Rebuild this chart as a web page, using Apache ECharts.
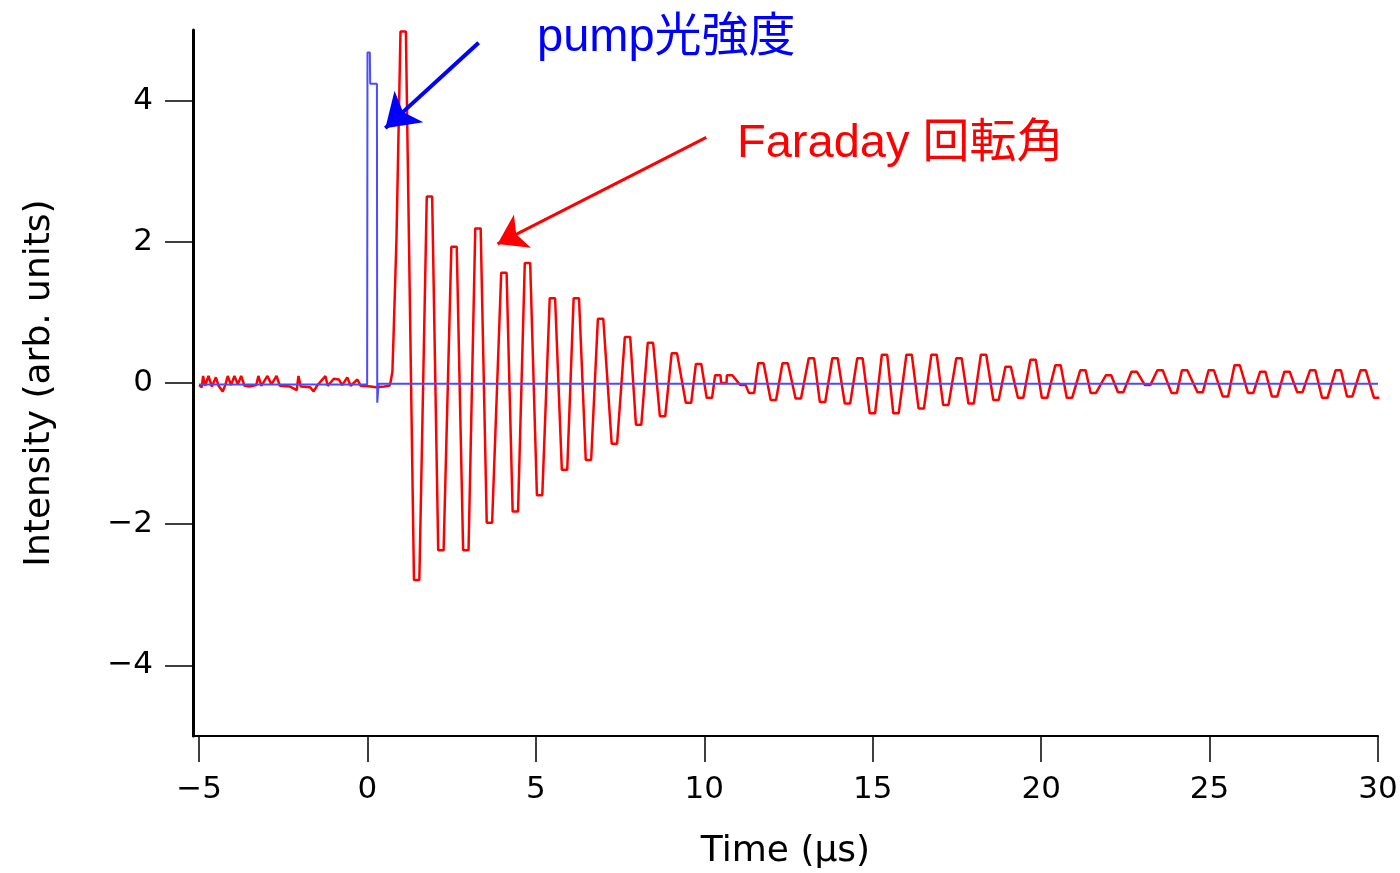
<!DOCTYPE html>
<html>
<head>
<meta charset="utf-8">
<script src="https://cdn.jsdelivr.net/npm/echarts@6/dist/echarts.min.js"></script>
<style>
  html, body { margin: 0; padding: 0; background: #ffffff; }
  #chart { width: 1400px; height: 873px; }
</style>
</head>
<body>
<div id="chart"></div>
<script>
// pump pulse (blue)
const pumpTimes = [-5.0, -0.01, 0.0, 0.07, 0.08, 0.28, 0.29, 0.31, 0.33, 30.0];
const pumpValues = [-0.02, -0.02, 4.68, 4.68, 4.24, 4.24, -0.28, -0.28, -0.01, -0.01];

// Faraday rotation (red): noise before the pulse
const preTimes = [-5.0, -4.92, -4.88, -4.82, -4.72, -4.62, -4.5, -4.42, -4.3, -4.22, -4.15, -4.05, -3.95, -3.85, -3.75, -3.65,
  -3.5, -3.3, -3.24, -3.15, -2.97, -2.85, -2.7, -2.6, -2.3, -2.1, -2.05, -1.98, -1.7, -1.6, -1.5, -1.25, -1.18,
  -1.0, -0.85, -0.75, -0.6, -0.5, -0.3, -0.2, 0.1, 0.25, 0.5, 0.65];
const preValues = [-0.03, -0.06, 0.1, -0.04, 0.1, -0.05, 0.08, -0.04, -0.12, -0.03, 0.1, -0.03, 0.1, -0.02, 0.1, -0.04,
  -0.05, -0.03, 0.1, -0.04, 0.1, -0.02, 0.1, -0.04, -0.05, -0.1, 0.1, -0.05, -0.06, -0.12, -0.04, 0.1, -0.04,
  0.06, 0.05, -0.03, 0.08, -0.04, 0.05, -0.04, -0.05, -0.06, -0.05, -0.04];

// first rise
const riseTimes = [0.68, 0.74, 0.77, 0.86];
const riseValues = [0.0, 0.16, 0.61, 2.03];

// oscillation maxima / minima
const peakTimes = [1.06, 1.84, 2.57, 3.28, 4.05, 4.75, 5.49, 6.2, 6.92, 7.72, 8.4, 9.11, 9.83, 10.4, 10.75,
  11.68, 12.4, 13.18, 13.88, 14.62, 15.35, 16.08, 16.82, 17.56, 18.29, 19.02, 19.76, 20.5, 21.24, 22.0,
  22.76, 23.53, 24.26, 25.05, 25.82, 26.58, 27.3, 28.06, 28.82, 29.56];
const peakValues = [4.98, 2.64, 1.93, 2.19, 1.56, 1.7, 1.2, 1.2, 0.91, 0.65, 0.57, 0.42, 0.27, 0.11, 0.11,
  0.28, 0.28, 0.35, 0.35, 0.35, 0.4, 0.4, 0.4, 0.35, 0.4, 0.23, 0.33, 0.25, 0.18, 0.11,
  0.16, 0.18, 0.18, 0.18, 0.25, 0.16, 0.16, 0.18, 0.18, 0.18];
const troughTimes = [1.46, 2.18, 2.92, 3.62, 4.39, 5.11, 5.85, 6.56, 7.33, 8.05, 8.76, 9.53, 10.15, 10.58, 11.15, 11.4,
  12.05, 12.79, 13.51, 14.25, 14.99, 15.69, 16.44, 17.17, 17.92, 18.66, 19.39, 20.1, 20.84, 21.55, 22.36,
  23.16, 23.95, 24.72, 25.47, 26.22, 26.93, 27.68, 28.42, 29.16, 29.96];
const troughValues = [-2.79, -2.37, -2.37, -1.98, -1.82, -1.59, -1.23, -1.09, -0.86, -0.59, -0.47, -0.28, -0.21, 0.0, -0.03, -0.14,
  -0.24, -0.22, -0.27, -0.29, -0.43, -0.43, -0.36, -0.31, -0.29, -0.24, -0.21, -0.21, -0.21, -0.14, -0.13,
  -0.03, -0.14, -0.13, -0.19, -0.14, -0.19, -0.13, -0.21, -0.19, -0.21];

const xTicks = [-5, 0, 5, 10, 15, 20, 25, 30];
const yTicks = [-4, -2, 0, 2, 4];

// half width of the flat top of each sampled extremum (µs)
const FLAT = 0.08;

const AXIS_FONT = '"DejaVu Sans", "Liberation Sans", sans-serif';
const NOTE_FONT = '"Liberation Sans", "Noto Sans CJK JP", sans-serif';

function zip(ts, vs) {
  return ts.map((t, i) => [t, vs[i]]);
}

function buildFaraday() {
  const extrema = [];
  peakTimes.forEach((t, i) => extrema.push([t, peakValues[i]]));
  troughTimes.forEach((t, i) => extrema.push([t, troughValues[i]]));
  extrema.sort((a, b) => a[0] - b[0]);

  const pts = zip(preTimes, preValues).concat(zip(riseTimes, riseValues));
  for (const [t, v] of extrema) {
    pts.push([t - FLAT, v], [t + FLAT, v]);
  }
  return pts;
}

function minusLabel(v) {
  return v < 0 ? "\u2212" + Math.abs(v) : String(v);
}

// annotation arrow drawn as a markLine between two data points
function arrow(from, to, color, width, head) {
  return {
    silent: true,
    symbol: ["none", "arrow"],
    symbolSize: head,
    label: { show: false },
    lineStyle: { color, width, type: "solid" },
    emphasis: { disabled: true },
    data: [[{ coord: from }, { coord: to }]],
  };
}

const chart = echarts.init(document.getElementById("chart"), null, { renderer: "canvas" });

chart.setOption({
  animation: false,
  backgroundColor: "#ffffff",
  grid: { left: 193, right: 22, top: 30, bottom: 137, containLabel: false, outerBoundsMode: "none" },
  xAxis: {
    type: "value",
    min: -5.18,
    max: 30,
    name: "Time (\u00b5s)",
    nameLocation: "middle",
    nameGap: 98,
    nameTextStyle: { fontFamily: AXIS_FONT, fontSize: 36, color: "#000" },
    axisLine: { onZero: false, lineStyle: { color: "#000", width: 2 } },
    axisTick: { inside: false, length: 26, customValues: xTicks, lineStyle: { color: "#000", width: 1.5 } },
    axisLabel: {
      customValues: xTicks,
      margin: 38,
      fontFamily: AXIS_FONT,
      fontSize: 31,
      color: "#000",
      formatter: minusLabel,
    },
    splitLine: { show: false },
  },
  yAxis: {
    type: "value",
    min: -5,
    max: 5,
    name: "Intensity (arb. units)",
    nameLocation: "middle",
    nameGap: 135,
    nameTextStyle: { fontFamily: AXIS_FONT, fontSize: 36, color: "#000" },
    axisLine: { onZero: false, lineStyle: { color: "#000", width: 3 } },
    axisTick: { inside: false, length: 28, customValues: yTicks, lineStyle: { color: "#000", width: 1.5 } },
    axisLabel: {
      customValues: yTicks,
      margin: 40,
      fontFamily: AXIS_FONT,
      fontSize: 31,
      color: "#000",
      formatter: minusLabel,
    },
    splitLine: { show: false },
  },
  series: [
    {
      name: "Faraday",
      type: "line",
      data: buildFaraday(),
      showSymbol: false,
      lineStyle: { color: "#ff0000", width: 2.5 },
      z: 2,
      markLine: arrow([10.06, 3.48], [3.86, 1.97], "#ff0000", 3, 28),
    },
    {
      name: "pump",
      type: "line",
      data: zip(pumpTimes, pumpValues),
      showSymbol: false,
      lineStyle: { color: "#4b4bff", width: 2 },
      z: 3,
      markLine: arrow([3.3, 4.82], [0.53, 3.61], "#0000ff", 4, 32),
    },
  ],
  graphic: [
    {
      type: "text",
      x: 537,
      y: 38,
      style: { text: "pump光強度", fill: "#0000ff", font: "47px " + NOTE_FONT, verticalAlign: "middle" },
    },
    {
      type: "text",
      x: 737,
      y: 144,
      style: { text: "Faraday 回転角", fill: "#ff0000", font: "47px " + NOTE_FONT, verticalAlign: "middle" },
    },
  ],
});
</script>
</body>
</html>
